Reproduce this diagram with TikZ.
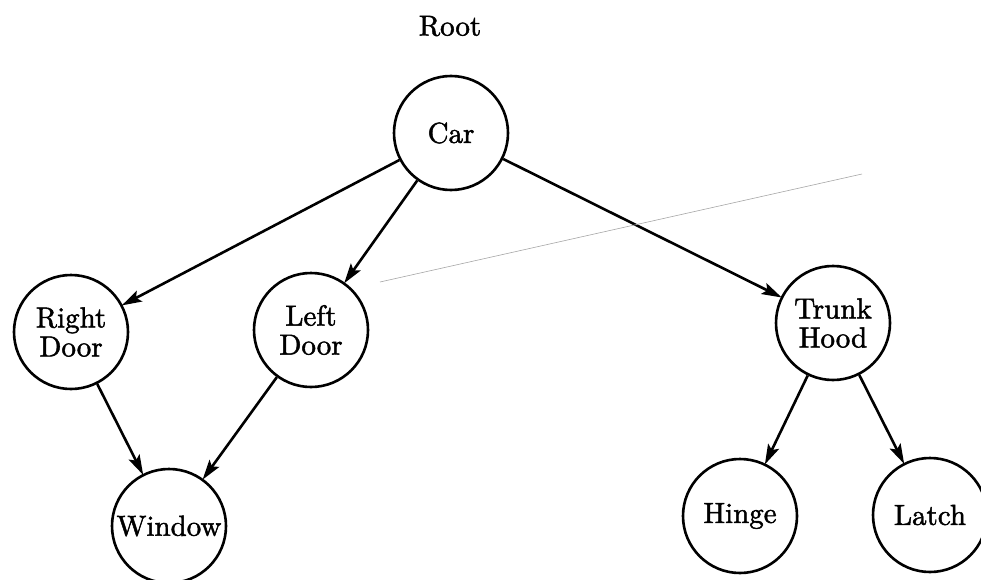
\documentclass[tikz,border=0pt]{standalone}
\usepackage{fontspec}
\usetikzlibrary{arrows.meta}
\newfontfamily\labelfont{lmroman10-regular.otf}[FakeBold=1.6]
\begin{document}
\begin{tikzpicture}[x=1pt,y=-1pt,
  every node/.style={font=\labelfont\fontsize{29}{29}\selectfont},
  part/.style={circle,draw,line width=2.6pt,minimum size=114pt,inner sep=0pt,
    align=center},
  link/.style={line width=2.6pt,-{Stealth[length=20pt,width=12pt,inset=4pt]},shorten >=-1pt}
]
\useasboundingbox (0,0) rectangle (981,580);

\node (root) at (450,26) {Root};

\node[part] (car)   at (451,133) {Car};
\node[part] (rdoor) at (71,332)  {Right\\Door};
\node[part] (ldoor) at (311,330) {Left\\Door};
\node[part] (trunk) at (833,323) {Trunk\\Hood};
\node[part] (window) at (169,526) {Window};
\node[part] (hinge) at (740,516) {Hinge};
\node[part] (latch) at (930,515) {Latch};

\draw[link] (car) -- (rdoor);
\draw[link] (car) -- (ldoor);
\draw[link] (car) -- (trunk);
\draw[link] (rdoor) -- (window);
\draw[link] (ldoor) -- (window);
\draw[link] (trunk) -- (hinge);
\draw[link] (trunk) -- (latch);

% faint stray stroke across the sheet
\coordinate (s1) at (380,282);
\coordinate (s2) at (862,174);
\draw[gray!70,line width=0.6pt] (s1) -- (s2);
\end{tikzpicture}
\end{document}
